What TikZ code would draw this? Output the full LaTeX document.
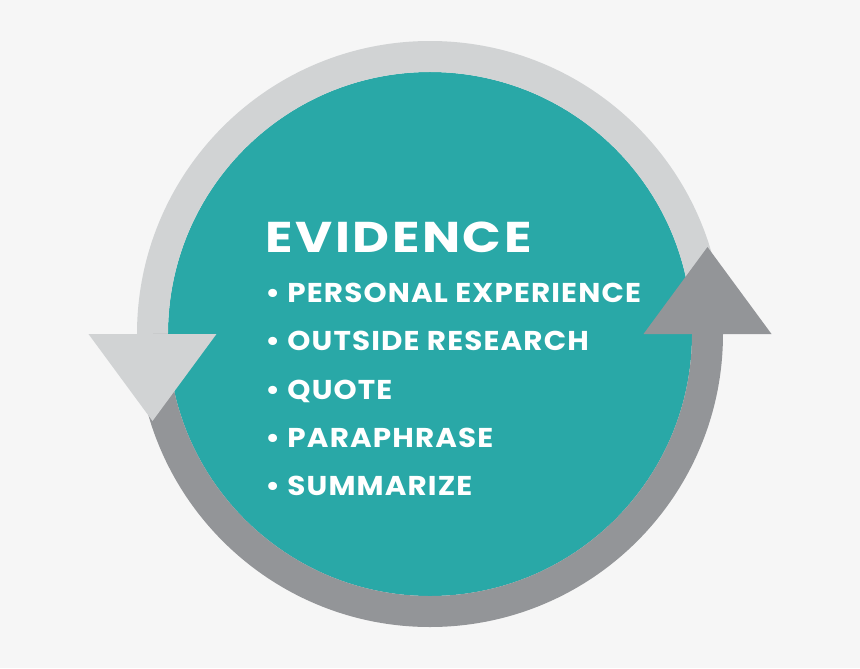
\documentclass[tikz,border=0pt]{standalone}
\usepackage{fontspec}
\setmainfont{Poppins}
\newfontfamily\titlefont{Poppins}[FakeStretch=1.18, LetterSpace=6]
\newfontfamily\itemfont{Poppins}[FakeStretch=1.08, LetterSpace=4.2]
\definecolor{pagebg}{HTML}{F6F6F6}
\definecolor{tealfill}{HTML}{29A8A7}
\definecolor{ringlight}{HTML}{D1D3D4}
\definecolor{ringdark}{HTML}{939598}

\begin{document}
\begin{tikzpicture}[scale=0.02,
    ring/.style={line width=0.62cm},
    title/.style={anchor=base west, inner sep=0pt, text=white, font=\titlefont\fontsize{24.5}{28}\selectfont\bfseries},
    item/.style={anchor=base west, inner sep=0pt, text=white, font=\itemfont\fontsize{15.5}{18}\selectfont\bfseries}
]

% page
\fill[pagebg] (-430,-334) rectangle (430,334);
\useasboundingbox (-430,-334) rectangle (430,334);

% circle and ring
\fill[tealfill] (0,0) circle (262);
\draw[ring, ringlight] (180:277.5) arc (180:0:277.5);
\draw[ring, ringdark] (0:277.5) arc (360:180:277.5);

% arrow heads
\fill[ringlight] (-341.5,0) -- (-213.5,0) -- (-277.5,-87) -- cycle;
\fill[ringdark] (213.5,0) -- (341.5,0) -- (277.5,87) -- cycle;

% text
\node[title] (evidence) at (-165,82) {EVIDENCE};
\node[item] (personal) at (-165,32) {•\ PERSONAL EXPERIENCE};
\node[item] (outside) at (-165,-16) {•\ OUTSIDE RESEARCH};
\node[item] (quote) at (-165,-65) {•\ QUOTE};
\node[item] (paraphrase) at (-165,-113) {•\ PARAPHRASE};
\node[item] (summarize) at (-165,-161) {•\ SUMMARIZE};

\end{tikzpicture}
\end{document}
